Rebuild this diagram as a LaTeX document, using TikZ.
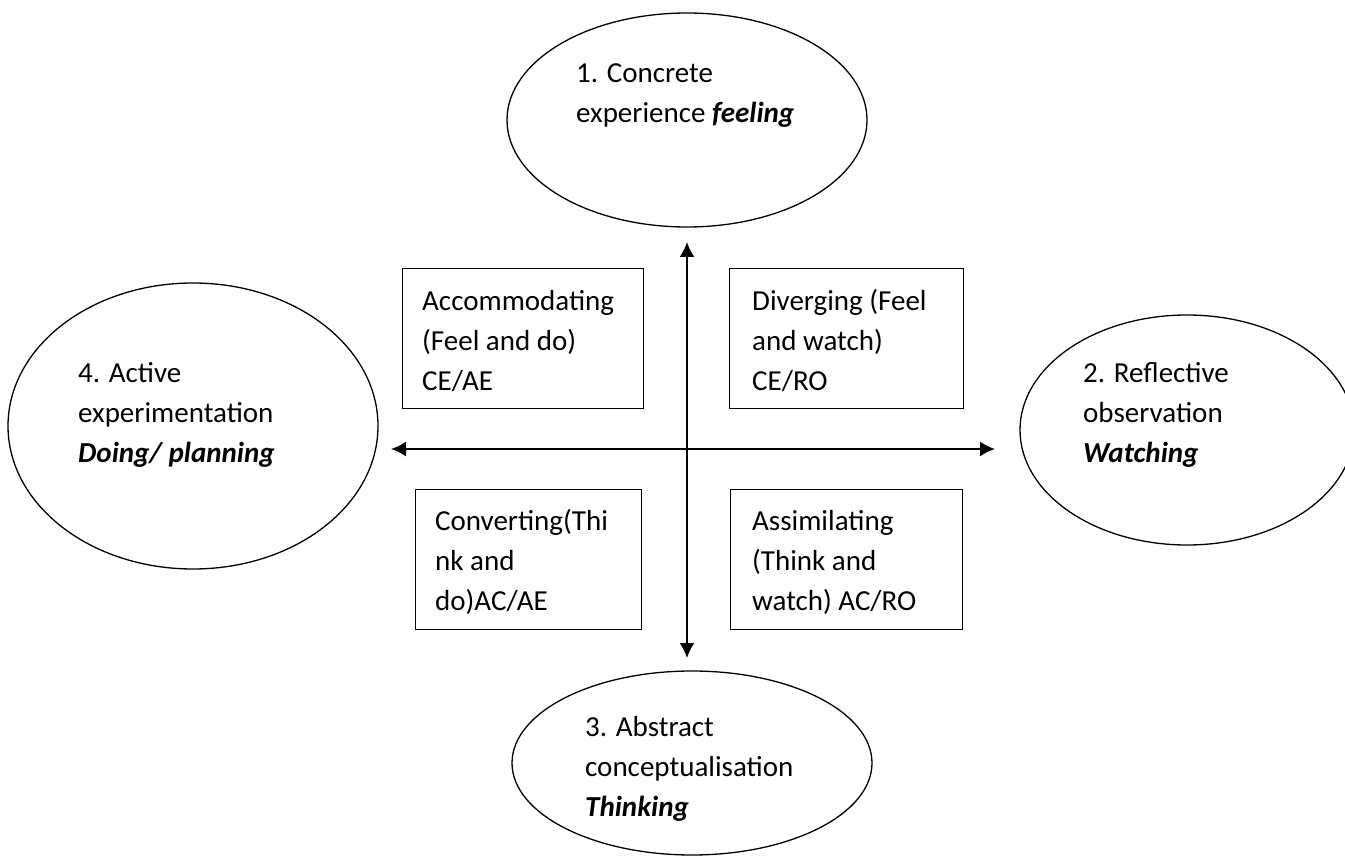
\documentclass[tikz,border=0pt]{standalone}
\usepackage{fontspec}
\setmainfont{Carlito}
\usetikzlibrary{shapes.geometric,arrows.meta}

\begin{document}
\begin{tikzpicture}[x=1pt,y=-1pt,
  stage/.style={draw,ellipse,line width=1.3pt,inner sep=0pt},
  stylebox/.style={draw,rectangle,line width=1.3pt,inner sep=0pt,anchor=north west},
  txt/.style={anchor=north west,inner sep=0pt,align=left,font=\fontsize{29}{40}\selectfont},
  twoway/.style={{Latex[length=15pt,width=15pt]}-{Latex[length=15pt,width=15pt]},line width=1.8pt}]
  \path[use as bounding box,clip] (0,0) rectangle (1345,861);

  % Stages of the cycle
  \node[stage,minimum width=360pt,minimum height=214pt] (ce) at (687,120) {};
  \node[stage,minimum width=334pt,minimum height=230pt] (ro) at (1187,430) {};
  \node[stage,minimum width=360pt,minimum height=184pt] (ac) at (692,763) {};
  \node[stage,minimum width=370pt,minimum height=286pt] (ae) at (193,426) {};

  \node[txt] (cetext) at (576,54) {\strut 1. Concrete\\experience \textbf{\textit{feeling}}};
  \node[txt] (rotext) at (1083,354) {\strut 2. Reflective\\observation\\\textbf{\textit{Watching}}};
  \node[txt] (actext) at (585,708) {\strut 3. Abstract\\conceptualisation\\\textbf{\textit{Thinking}}};
  \node[txt] (aetext) at (78,354) {\strut 4. Active\\experimentation\\\textbf{\textit{Doing/ planning}}};

  % Learning styles
  \node[stylebox,minimum width=241pt,minimum height=140pt] (acc) at (402,268) {};
  \node[stylebox,minimum width=234pt,minimum height=140pt] (div) at (729,268) {};
  \node[stylebox,minimum width=226pt,minimum height=140pt] (con) at (415,489) {};
  \node[stylebox,minimum width=232pt,minimum height=140pt] (ass) at (730,489) {};

  \node[txt] (acctext) at (422,282) {\strut Accommodating\\(Feel and do)\\CE/AE};
  \node[txt] (divtext) at (752,282) {\strut Diverging (Feel\\and watch)\\CE/RO};
  \node[txt] (context) at (435,502) {\strut Converting(Thi\\nk and\\do)AC/AE};
  \node[txt] (asstext) at (752,502) {\strut Assimilating\\(Think and\\watch) AC/RO};

  % Axes
  \coordinate (up) at (687,242);
  \coordinate (down) at (687,658);
  \coordinate (left) at (391,449);
  \coordinate (right) at (995,449);
  \draw[twoway] (up) -- (down);
  \draw[twoway] (left) -- (right);
\end{tikzpicture}
\end{document}
